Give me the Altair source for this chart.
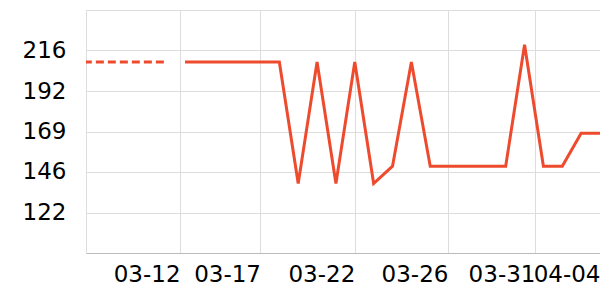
import altair as alt
import pandas as pd

# Dashed (earlier) segment
dash_dates = ["2024-03-07T00:00:00", "2024-03-08T00:00:00", "2024-03-09T00:00:00",
              "2024-03-10T00:00:00", "2024-03-11T00:00:00", "2024-03-12T00:00:00"]
dash_values = [209, 209, 209, 209, 209, 209]

# Solid segment
solid_dates = ["2024-03-13T00:00:00", "2024-03-14T00:00:00", "2024-03-15T00:00:00",
               "2024-03-16T00:00:00", "2024-03-17T00:00:00", "2024-03-18T00:00:00",
               "2024-03-19T00:00:00", "2024-03-20T00:00:00", "2024-03-21T00:00:00",
               "2024-03-22T00:00:00", "2024-03-23T00:00:00", "2024-03-24T00:00:00",
               "2024-03-25T00:00:00", "2024-03-26T00:00:00", "2024-03-27T00:00:00",
               "2024-03-28T00:00:00", "2024-03-29T00:00:00", "2024-03-30T00:00:00",
               "2024-03-31T00:00:00", "2024-04-01T00:00:00", "2024-04-02T00:00:00",
               "2024-04-03T00:00:00", "2024-04-04T00:00:00"]
solid_values = [209, 209, 209, 209, 209, 209, 139, 209, 139, 209, 139, 149,
                209, 149, 149, 149, 149, 149, 219, 149, 149, 168, 168]

# Axis ticks
y_ticks = [122.33, 145.67, 169.0, 192.33, 215.67]
y_domain = [99, 239]
x_ticks = [
    alt.DateTime(year=2024, month=3, date=12, hours=17, minutes=40),
    alt.DateTime(year=2024, month=3, date=17, hours=0),
    alt.DateTime(year=2024, month=3, date=22, hours=0),
    alt.DateTime(year=2024, month=3, date=26, hours=22, minutes=30),
    alt.DateTime(year=2024, month=3, date=31, hours=13, minutes=15),
    alt.DateTime(year=2024, month=4, date=4, hours=0),
]
x_domain = [alt.DateTime(year=2024, month=3, date=7, hours=18),
            alt.DateTime(year=2024, month=4, date=4, hours=0)]

dash_df = pd.DataFrame({"date": dash_dates, "value": dash_values})
solid_df = pd.DataFrame({"date": solid_dates, "value": solid_values})

COLOR = "#ee4b2e"
FONT = "DejaVu Sans"

x_enc = alt.X(
    "date:T",
    scale=alt.Scale(domain=x_domain, nice=False),
    axis=alt.Axis(
        title=None, values=x_ticks, format="%m-%d", labelAlign="right",
        labelFontSize=23, labelFont=FONT, labelColor="#000000",
        labelPadding=10, ticks=False, tickSize=0, grid=True, gridColor="#dddddd",
        domainColor="#bbbbbb", labelOverlap=False, labelFlush=False,
    ),
)
y_enc = alt.Y(
    "value:Q",
    scale=alt.Scale(domain=y_domain, nice=False, zero=False),
    axis=alt.Axis(
        title=None, values=y_ticks, format=".0f",
        labelFontSize=23, labelFont=FONT, labelColor="#000000",
        labelPadding=20, ticks=False, tickSize=0, grid=True, gridColor="#dddddd",
        domainColor="#dddddd",
    ),
)

dashed = alt.Chart(dash_df).mark_line(
    color=COLOR, strokeWidth=3, strokeDash=[8, 4], clip=True
).encode(x=x_enc, y=y_enc)

solid = alt.Chart(solid_df).mark_line(
    color=COLOR, strokeWidth=3, clip=True
).encode(x=x_enc, y=y_enc)

chart = alt.layer(dashed, solid).properties(
    width=514, height=243,
    autosize=alt.AutoSizeParams(type="none"),
    padding={"left": 86, "top": 10, "right": 0, "bottom": 47},
).configure_view(stroke=None).configure(background="white")

chart.save("out.html", embed_options={"renderer": "svg", "actions": False})
